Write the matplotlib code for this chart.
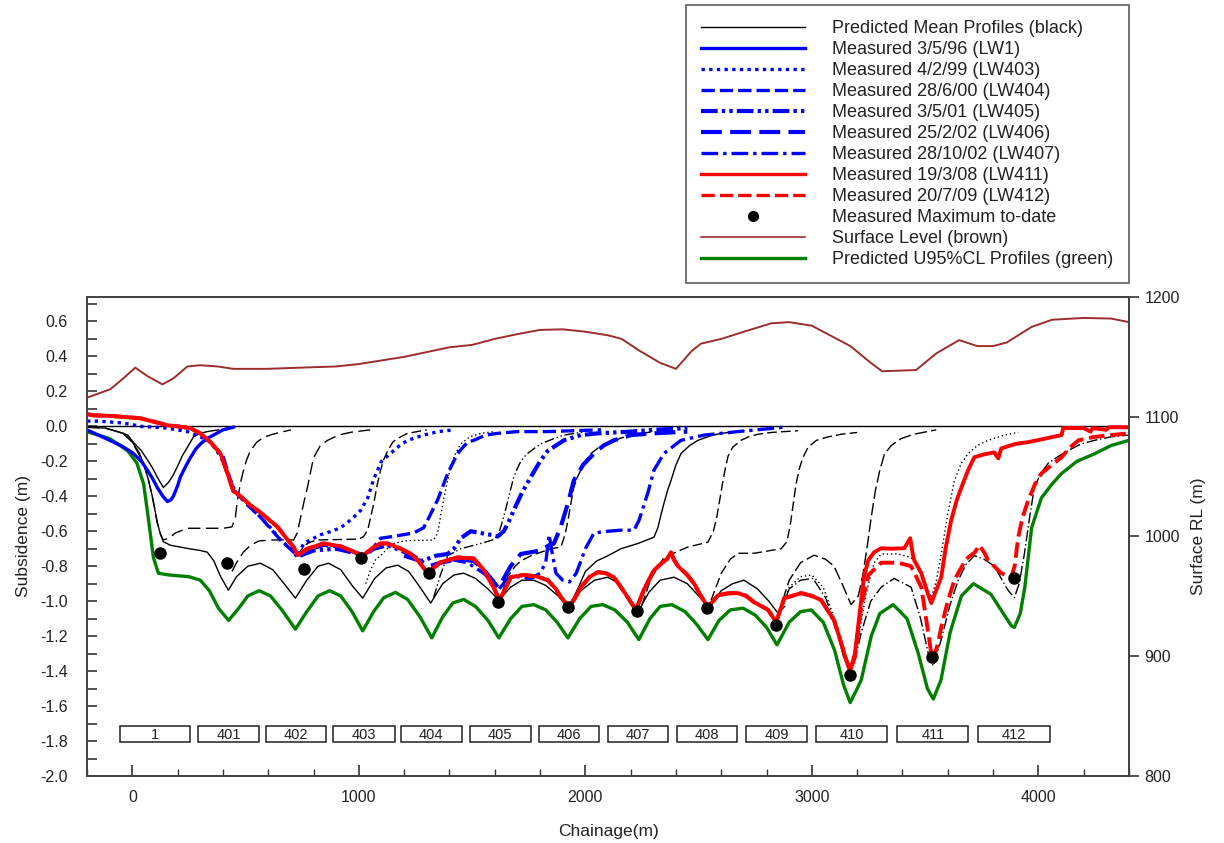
import matplotlib
matplotlib.use("Agg")
import matplotlib.pyplot as plt
from matplotlib.lines import Line2D
from matplotlib.patches import Rectangle

plt.rcParams['font.family'] = ['Liberation Sans', 'DejaVu Sans']

# ---------------- data ----------------
# Surface level (chainage m, RL m)
surf_x = [-199, -97, -40, 13, 66, 133, 181, 243, 301, 376, 446, 597, 743, 900, 1000, 1100, 1200, 1300, 1400,
          1500, 1600, 1700, 1800, 1900, 2000, 2100, 2160, 2240, 2330, 2400, 2470, 2510, 2600, 2700, 2820,
          2900, 3000, 3080, 3170, 3260, 3310, 3460, 3550, 3650, 3730, 3800, 3860, 3970, 4060, 4200, 4320, 4400]
surf_rl = [1116, 1123, 1132, 1141, 1134, 1127, 1132, 1142, 1143, 1142, 1140, 1140, 1141, 1142, 1144, 1147, 1150,
           1154, 1158, 1160, 1165, 1169, 1172.5, 1173, 1171, 1168, 1165, 1155, 1145, 1140, 1155, 1161, 1165,
           1171, 1178, 1179, 1176, 1168, 1159, 1145, 1138, 1139, 1153, 1164, 1159, 1159, 1162, 1175, 1181,
           1182.5, 1182, 1179]

# Predicted U95%CL profile (green)
u95_x = [-200, -100, -20, 20, 50, 70, 93, 115, 160, 250, 300, 340, 380, 425, 470, 510, 560, 610, 660, 720, 770,
         820, 871, 920, 970, 1017, 1065, 1110, 1162, 1215, 1270, 1322, 1370, 1415, 1463, 1515, 1570, 1618, 1670,
         1720, 1772, 1825, 1875, 1923, 1975, 2025, 2077, 2130, 2185, 2236, 2285, 2330, 2382, 2440, 2490, 2541,
         2590, 2640, 2696, 2750, 2800, 2846, 2900, 2950, 2997, 3050, 3100, 3140, 3169, 3200, 3218, 3262, 3300,
         3359, 3420, 3470, 3510, 3536, 3570, 3610, 3660, 3713, 3790, 3840, 3880, 3894, 3920, 3940, 3955, 3970,
         4013, 4060, 4102, 4170, 4248, 4320, 4400]
u95_y = [-0.03, -0.07, -0.14, -0.21, -0.33, -0.52, -0.75, -0.84, -0.85, -0.86, -0.88, -0.94, -1.04, -1.11, -1.04,
         -0.97, -0.94, -0.97, -1.05, -1.16, -1.06, -0.97, -0.94, -0.97, -1.06, -1.17, -1.06, -0.98, -0.95, -0.99,
         -1.09, -1.21, -1.09, -1.01, -0.99, -1.03, -1.11, -1.21, -1.10, -1.03, -1.02, -1.05, -1.12, -1.21, -1.10,
         -1.03, -1.02, -1.05, -1.12, -1.22, -1.10, -1.03, -1.02, -1.06, -1.13, -1.22, -1.11, -1.05, -1.04, -1.08,
         -1.15, -1.25, -1.12, -1.06, -1.05, -1.12, -1.28, -1.48, -1.58, -1.50, -1.45, -1.20, -1.07, -1.02, -1.10,
         -1.30, -1.50, -1.56, -1.45, -1.18, -0.97, -0.90, -0.96, -1.06, -1.14, -1.15, -1.07, -0.92, -0.75, -0.58,
         -0.41, -0.33, -0.27, -0.20, -0.157, -0.11, -0.08]

# Predicted mean profiles (black), one per stage
p1_x = [-66, -20, 4, 40, 66, 90, 110, 137, 160, 180, 199, 220, 243, 270, 300, 331, 380]
p1_y = [-0.03, -0.05, -0.09, -0.14, -0.19, -0.24, -0.29, -0.35, -0.32, -0.28, -0.23, -0.17, -0.12, -0.06, -0.04,
        -0.03, -0.02]

pm_x = [-200, -120, -66, -40, 0, 30, 49, 70, 88, 100, 110, 125, 137, 168, 250, 300, 331, 360, 390, 424, 460, 510,
        566, 620, 670, 720, 770, 820, 866, 920, 970, 1017, 1070, 1120, 1171, 1220, 1270, 1317, 1370, 1420, 1463,
        1515, 1570, 1618, 1670, 1720, 1772, 1825, 1880, 1927, 1980, 2040, 2099, 2150, 2190, 2232, 2280, 2330,
        2391, 2450, 2500, 2546, 2600, 2650, 2700, 2760, 2810, 2851, 2880]
pm_y = [-0.005, -0.01, -0.03, -0.04, -0.09, -0.15, -0.21, -0.30, -0.40, -0.48, -0.55, -0.62, -0.66, -0.68, -0.70,
        -0.71, -0.72, -0.77, -0.86, -0.937, -0.86, -0.80, -0.783, -0.82, -0.90, -0.983, -0.88, -0.80, -0.783,
        -0.82, -0.91, -0.983, -0.87, -0.81, -0.794, -0.83, -0.92, -1.011, -0.90, -0.85, -0.84, -0.87, -0.93,
        -0.994, -0.92, -0.88, -0.88, -0.91, -0.97, -1.04, -0.94, -0.88, -0.863, -0.90, -0.98, -1.063, -0.95,
        -0.88, -0.863, -0.90, -0.97, -1.034, -0.94, -0.90, -0.88, -0.93, -1.00, -1.07, -1.03]

p401_x = [-200, -120, -66, -40, 0, 49, 70, 88, 100, 110, 125, 137, 160, 190, 243, 402, 440, 455, 464, 478, 491,
          505, 522, 550, 579, 620, 654, 700]
p401_y = [-0.005, -0.01, -0.03, -0.04, -0.09, -0.21, -0.30, -0.40, -0.48, -0.55, -0.62, -0.65, -0.64, -0.61,
          -0.583, -0.583, -0.575, -0.52, -0.42, -0.32, -0.25, -0.19, -0.137, -0.09, -0.063, -0.045, -0.034, -0.02]

p402_x = [440, 460, 490, 522, 560, 620, 712, 728, 743, 758, 773, 787, 800, 830, 862, 910, 964, 1050]
p402_y = [-0.83, -0.78, -0.72, -0.68, -0.655, -0.65, -0.65, -0.61, -0.52, -0.43, -0.35, -0.26, -0.18, -0.11,
          -0.08, -0.05, -0.034, -0.02]

p403_x = [729, 760, 790, 818, 1000, 1021, 1039, 1052, 1066, 1080, 1096, 1110, 1127, 1150, 1170, 1215, 1300]
p403_y = [-0.74, -0.68, -0.66, -0.65, -0.645, -0.63, -0.594, -0.52, -0.44, -0.34, -0.25, -0.19, -0.14, -0.09,
          -0.07, -0.04, -0.02]

p404_x = [1030, 1052, 1075, 1096, 1125, 1155, 1200, 1330, 1348, 1360, 1374, 1390, 1405, 1425, 1450, 1490, 1538,
          1600]
p404_y = [-0.90, -0.82, -0.76, -0.74, -0.70, -0.67, -0.655, -0.65, -0.61, -0.52, -0.42, -0.32, -0.23, -0.16,
          -0.10, -0.06, -0.04, -0.03]

p405_x = [1330, 1360, 1392, 1450, 1538, 1590, 1613, 1630, 1645, 1657, 1670, 1684, 1700, 1715, 1740, 1770, 1803,
          1861, 1905, 2000]
p405_y = [-0.98, -0.85, -0.74, -0.70, -0.67, -0.65, -0.63, -0.56, -0.49, -0.43, -0.36, -0.29, -0.24, -0.20,
          -0.16, -0.13, -0.10, -0.07, -0.05, -0.03]

p406_x = [1630, 1657, 1690, 1715, 1760, 1803, 1850, 1892, 1910, 1923, 1936, 1949, 1965, 1980, 2000, 2025, 2060,
          2099, 2150, 2201, 2300]
p406_y = [-0.96, -0.86, -0.80, -0.77, -0.74, -0.72, -0.70, -0.69, -0.62, -0.54, -0.44, -0.35, -0.29, -0.25,
          -0.20, -0.155, -0.12, -0.10, -0.07, -0.05, -0.03]

p407_x = [1940, 1970, 2000, 2050, 2100, 2157, 2232, 2303, 2320, 2335, 2347, 2362, 2378, 2400, 2422, 2460, 2497,
          2550, 2599, 2700]
p407_y = [-1.00, -0.92, -0.83, -0.77, -0.74, -0.70, -0.67, -0.634, -0.58, -0.50, -0.44, -0.37, -0.31, -0.22,
          -0.156, -0.11, -0.08, -0.055, -0.04, -0.025]

p408_x = [2250, 2290, 2347, 2400, 2453, 2541, 2565, 2580, 2592, 2605, 2618, 2630, 2650, 2687, 2720, 2762, 2820,
          2939]
p408_y = [-1.02, -0.87, -0.75, -0.72, -0.69, -0.663, -0.60, -0.52, -0.43, -0.33, -0.24, -0.17, -0.12, -0.08,
          -0.06, -0.045, -0.035, -0.025]

p409_x = [2555, 2600, 2640, 2674, 2745, 2864, 2890, 2905, 2918, 2930, 2945, 2960, 2983, 3020, 3072, 3130, 3200]
p409_y = [-0.994, -0.84, -0.76, -0.726, -0.726, -0.70, -0.66, -0.56, -0.44, -0.33, -0.24, -0.18, -0.12, -0.08,
          -0.06, -0.045, -0.035]

p410_x = [2870, 2900, 2950, 3010, 3060, 3098, 3140, 3173, 3205, 3225, 3245, 3262, 3280, 3300, 3320, 3350, 3394,
          3450, 3549]
p410_y = [-1.00, -0.88, -0.78, -0.737, -0.76, -0.80, -0.92, -1.02, -0.97, -0.85, -0.68, -0.52, -0.37, -0.25,
          -0.16, -0.11, -0.07, -0.045, -0.02]

p411_x = [2860, 2900, 2950, 3000, 3050, 3100, 3140, 3169, 3200, 3240, 3275, 3306, 3380, 3438, 3480, 3527, 3550,
          3571, 3600, 3629, 3660, 3690, 3730, 3778, 3850, 3911]
p411_y = [-1.06, -0.92, -0.86, -0.85, -0.92, -1.10, -1.30, -1.38, -1.25, -0.95, -0.78, -0.73, -0.73, -0.75,
          -0.84, -0.98, -0.88, -0.73, -0.50, -0.31, -0.21, -0.156, -0.11, -0.08, -0.05, -0.034]

p412_x = [2860, 2900, 2950, 3005, 3060, 3100, 3140, 3169, 3200, 3218, 3260, 3306, 3363, 3438, 3480, 3514, 3536,
          3571, 3610, 3646, 3680, 3717, 3760, 3806, 3840, 3867, 3894, 3915, 3938, 3960, 3982, 4010, 4044, 4090,
          4133, 4190, 4248, 4320, 4398]
p412_y = [-1.06, -0.93, -0.88, -0.87, -0.98, -1.12, -1.32, -1.40, -1.28, -1.18, -1.00, -0.92, -0.87, -0.92,
          -1.10, -1.30, -1.37, -1.22, -1.02, -0.88, -0.79, -0.74, -0.76, -0.80, -0.88, -0.94, -0.98, -0.90, -0.73,
          -0.53, -0.35, -0.27, -0.21, -0.17, -0.137, -0.10, -0.08, -0.06, -0.05]

# Measured profiles
lw1_x = [-200, -150, -100, -50, 0, 40, 66, 90, 110, 135, 155, 170, 181, 200, 212, 235, 256, 280, 301, 330, 358,
         400, 446]
lw1_y = [-0.02, -0.05, -0.08, -0.11, -0.15, -0.20, -0.25, -0.30, -0.35, -0.40, -0.43, -0.42, -0.40, -0.34,
         -0.29, -0.23, -0.18, -0.13, -0.10, -0.07, -0.05, -0.02, -0.005]

lw403_x = [-200, -150, -100, -50, 0, 35, 100, 150, 200, 243, 300, 345, 389, 420, 446, 477, 520, 566, 610, 654,
           700, 729, 756, 800, 831, 880, 919, 950, 977, 1008, 1039, 1066, 1083, 1100, 1140, 1180, 1215, 1286,
           1350, 1420]
lw403_y = [0.03, 0.03, 0.025, 0.02, 0.01, 0.0, -0.005, -0.01, -0.02, -0.03, -0.06, -0.09, -0.17, -0.26, -0.35,
           -0.40, -0.46, -0.52, -0.58, -0.65, -0.70, -0.75, -0.67, -0.64, -0.62, -0.60, -0.58, -0.55, -0.52,
           -0.48, -0.41, -0.30, -0.25, -0.20, -0.155, -0.11, -0.08, -0.05, -0.03, -0.02]

lw404_x = [400, 446, 500, 566, 654, 729, 773, 844, 919, 1000, 1021, 1066, 1096, 1150, 1242, 1286, 1310, 1348,
           1392, 1436, 1480, 1507, 1560, 1613, 1700, 1834, 1950, 2069]
lw404_y = [-0.17, -0.36, -0.44, -0.52, -0.65, -0.74, -0.71, -0.68, -0.69, -0.73, -0.74, -0.69, -0.64, -0.63,
           -0.61, -0.58, -0.52, -0.42, -0.27, -0.155, -0.09, -0.08, -0.05, -0.04, -0.03, -0.03, -0.025, -0.02]

lw405_x = [740, 800, 900, 1000, 1021, 1066, 1127, 1185, 1240, 1273, 1300, 1340, 1392, 1420, 1450, 1494, 1538,
           1580, 1613, 1640, 1660, 1684, 1720, 1759, 1800, 1834, 1905, 1980, 2055, 2200, 2300, 2450]
lw405_y = [-0.74, -0.71, -0.70, -0.73, -0.74, -0.70, -0.68, -0.71, -0.74, -0.77, -0.76, -0.74, -0.73, -0.70,
           -0.64, -0.60, -0.61, -0.62, -0.63, -0.60, -0.55, -0.48, -0.38, -0.29, -0.20, -0.14, -0.08, -0.05,
           -0.04, -0.03, -0.02, -0.01]

lw406_x = [1200, 1273, 1310, 1361, 1436, 1507, 1551, 1590, 1613, 1627, 1670, 1715, 1760, 1803, 1840, 1861, 1890,
           1923, 1949, 1990, 2038, 2080, 2126, 2201, 2300, 2450]
lw406_y = [-0.74, -0.77, -0.80, -0.78, -0.76, -0.77, -0.82, -0.88, -0.92, -0.90, -0.80, -0.73, -0.72, -0.71,
           -0.68, -0.67, -0.58, -0.44, -0.31, -0.22, -0.156, -0.11, -0.08, -0.05, -0.04, -0.03]

lw407_x = [1400, 1480, 1551, 1600, 1620, 1650, 1700, 1760, 1800, 1825, 1840, 1850, 1870, 1900, 1930, 1960, 2000,
           2038, 2100, 2157, 2215, 2237, 2276, 2303, 2347, 2422, 2524, 2674, 2878]
lw407_y = [-0.76, -0.78, -0.84, -0.90, -0.93, -0.88, -0.86, -0.87, -0.84, -0.78, -0.62, -0.70, -0.84, -0.88,
           -0.89, -0.84, -0.70, -0.61, -0.60, -0.594, -0.594, -0.537, -0.38, -0.25, -0.155, -0.08, -0.05, -0.03,
           -0.005]

common_red_x = [-200, -172, -100, 0, 35, 100, 155, 200, 256, 300, 345, 389, 420, 446, 477, 520, 553, 600, 641,
                680, 712, 729, 750, 773, 844, 919, 995, 1021, 1066, 1096, 1127, 1185, 1230, 1260, 1304, 1330,
                1361, 1436, 1507, 1551, 1590, 1613, 1627, 1650, 1670, 1728, 1790, 1834, 1870, 1892, 1927, 1955,
                1980, 2020, 2055, 2090, 2126, 2157, 2188, 2223, 2260, 2303, 2342, 2360, 2378, 2390, 2409, 2450,
                2480, 2510, 2541, 2586, 2630, 2674, 2710, 2745, 2807, 2842, 2878, 2953, 3000, 3041, 3098, 3120,
                3150, 3169]
common_red_y = [0.07, 0.063, 0.06, 0.05, 0.046, 0.025, 0.006, 0.0, -0.01, -0.04, -0.09, -0.155, -0.27, -0.37,
                -0.40, -0.45, -0.48, -0.53, -0.575, -0.64, -0.69, -0.737, -0.72, -0.70, -0.67, -0.686, -0.726,
                -0.737, -0.69, -0.67, -0.67, -0.70, -0.73, -0.766, -0.84, -0.81, -0.777, -0.75, -0.756, -0.82,
                -0.91, -0.97, -0.98, -0.92, -0.863, -0.85, -0.86, -0.88, -0.93, -0.977, -1.034, -0.98, -0.92,
                -0.86, -0.834, -0.84, -0.863, -0.92, -0.98, -1.05, -0.93, -0.823, -0.777, -0.76, -0.72, -0.76,
                -0.80, -0.85, -0.90, -0.97, -1.034, -0.966, -0.955, -0.954, -0.97, -1.006, -1.05, -1.12, -0.983,
                -0.954, -0.97, -0.994, -1.11, -1.20, -1.33, -1.40]

lw411_tail_x = [3190, 3210, 3230, 3249, 3275, 3306, 3350, 3408, 3425, 3434, 3445, 3452, 3483, 3510, 3527, 3545,
                3571, 3590, 3615, 3640, 3660, 3690, 3717, 3760, 3806, 3815, 3823, 3836, 3900, 3956, 4030, 4102,
                4110, 4200, 4230, 4240, 4300, 4310, 4398]
lw411_tail_y = [-1.30, -1.08, -0.86, -0.766, -0.72, -0.697, -0.70, -0.697, -0.66, -0.64, -0.73, -0.766, -0.84,
                -0.95, -1.011, -0.95, -0.863, -0.70, -0.537, -0.42, -0.35, -0.25, -0.177, -0.16, -0.149, -0.17,
                -0.183, -0.126, -0.10, -0.09, -0.07, -0.05, -0.01, -0.01, -0.03, -0.01, -0.02, -0.005, -0.005]

lw412_tail_x = [3190, 3218, 3250, 3306, 3380, 3438, 3483, 3510, 3527, 3536, 3555, 3571, 3600, 3629, 3680, 3720,
                3739, 3760, 3778, 3836, 3880, 3895, 3911, 3930, 3956, 3985, 4013, 4060, 4102, 4140, 4177, 4248,
                4320, 4398]
lw412_tail_y = [-1.32, -1.03, -0.85, -0.78, -0.78, -0.80, -0.92, -1.15, -1.30, -1.33, -1.25, -1.15, -1.00, -0.88,
                -0.76, -0.72, -0.68, -0.72, -0.766, -0.84, -0.863, -0.80, -0.634, -0.52, -0.42, -0.33, -0.27,
                -0.22, -0.177, -0.12, -0.08, -0.06, -0.05, -0.04]

# Measured maximum to date
max_x = [124, 420, 760, 1008, 1308, 1613, 1923, 2228, 2537, 2842, 3169, 3531, 3894]
max_y = [-0.726, -0.783, -0.817, -0.754, -0.84, -1.006, -1.034, -1.057, -1.04, -1.137, -1.423, -1.32, -0.869]

# Longwall panels
panel_names = ['1', '401', '402', '403', '404', '405', '406', '407', '408', '409', '410', '411', '412']
panel_start = [-53, 292, 588, 888, 1185, 1489, 1794, 2099, 2404, 2709, 3019, 3377, 3735]
panel_end = [256, 557, 857, 1158, 1454, 1759, 2060, 2365, 2670, 2979, 3333, 3691, 4049]

# ---------------- plot ----------------
fig = plt.figure(figsize=(12.24, 8.43), dpi=100)
ax = fig.add_axes([0.0711, 0.0795, 0.8513, 0.5682])
ax2 = ax.twinx()

ax.axhline(0, color='black', lw=1.0, zorder=2)

ax.plot(u95_x, u95_y, color='#008000', lw=2.4, zorder=3)

blk = dict(color='black', lw=1.0, zorder=4)
ax.plot(pm_x, pm_y, ls='-', **blk)
ax.plot(p1_x, p1_y, ls='-', **blk)
ax.plot(p401_x, p401_y, dashes=(9, 4), **blk)
ax.plot(p402_x, p402_y, dashes=(9, 4), **blk)
ax.plot(p403_x, p403_y, dashes=(7, 3), **blk)
ax.plot(p404_x, p404_y, dashes=(1, 2), **blk)
ax.plot(p405_x, p405_y, dashes=(7, 2, 1, 2, 1, 2), **blk)
ax.plot(p406_x, p406_y, dashes=(7, 3), **blk)
ax.plot(p407_x, p407_y, ls='-', **blk)
ax.plot(p408_x, p408_y, dashes=(7, 3), **blk)
ax.plot(p409_x, p409_y, dashes=(7, 3), **blk)
ax.plot(p410_x, p410_y, dashes=(9, 3), **blk)
ax.plot(p411_x, p411_y, dashes=(1, 2), **blk)
ax.plot(p412_x, p412_y, dashes=(8, 2, 1, 2), **blk)

blue = '#0000ff'
red = '#ff0000'
ax.plot(lw1_x, lw1_y, color=blue, lw=2.4, zorder=5)
ax.plot(lw403_x, lw403_y, color=blue, lw=2.4, dashes=(1, 1.3), zorder=5)
ax.plot(lw404_x, lw404_y, color=blue, lw=2.4, dashes=(4, 1.5), zorder=5)
ax.plot(lw405_x, lw405_y, color=blue, lw=3.0, dashes=(4, 1, 0.8, 1, 0.8, 1), zorder=5)
ax.plot(lw406_x, lw406_y, color=blue, lw=3.0, dashes=(5, 2), zorder=5)
ax.plot(lw407_x, lw407_y, color=blue, lw=2.4, dashes=(5, 1.5, 1, 1.5), zorder=5)

ax.plot(common_red_x + lw411_tail_x, common_red_y + lw411_tail_y, color=red, lw=2.8, zorder=6)
ax.plot(common_red_x + lw412_tail_x, common_red_y + lw412_tail_y, color=red, lw=2.8, dashes=(4, 1.5), zorder=6)

ax.plot(max_x, max_y, 'o', color='black', ms=8, zorder=7, ls='none')

for name, x0, x1 in zip(panel_names, panel_start, panel_end):
    ax.add_patch(Rectangle((x0, -1.806), x1 - x0, 0.092, facecolor='white', edgecolor='#222222',
                           lw=1.1, zorder=3))
    ax.text((x0 + x1) / 2, -1.764, name, ha='center', va='center', fontsize=10.5, color='#222222', zorder=4)

ax2.plot(surf_x, surf_rl, color='#9b2d2d', lw=1.4)

ax.set_xlim(-200, 4400)
ax.set_ylim(-2.0, 0.74)
ax2.set_ylim(800, 1200)

ax.set_xticks([0, 1000, 2000, 3000, 4000])
ax.set_xticks(range(-200, 4401, 200), minor=True)
ax.set_yticks([-2.0, -1.8, -1.6, -1.4, -1.2, -1.0, -0.8, -0.6, -0.4, -0.2, 0.0, 0.2, 0.4, 0.6])
ax.set_yticks([v / 10 for v in range(-20, 8)], minor=True)
ax.set_yticklabels(['-2.0', '-1.8', '-1.6', '-1.4', '-1.2', '-1.0', '-0.8', '-0.6', '-0.4', '-0.2', '0.0',
                    '0.2', '0.4', '0.6'])
ax2.set_yticks([800, 900, 1000, 1100, 1200])

ax.tick_params(axis='x', which='major', direction='in', length=8, width=1.2, labelsize=11.5, pad=10,
               colors='#333333', labelcolor='#222222', top=False)
ax.tick_params(axis='x', which='minor', direction='in', length=5, width=1.0, colors='#333333', top=False)
ax.tick_params(axis='y', which='both', direction='in', length=7, width=1.2, labelsize=11.5, pad=14,
               colors='#333333', labelcolor='#222222', right=False)
ax2.tick_params(axis='y', which='major', direction='out', length=7, width=1.2, labelsize=11.5, pad=4,
                colors='#333333', labelcolor='#222222')

for a in (ax, ax2):
    for s in a.spines.values():
        s.set_color('#444444')
        s.set_linewidth(1.4)

ax.set_xlabel('Chainage(m)', fontsize=12.5, color='#222222', labelpad=14)
ax.set_ylabel('Subsidence (m)', fontsize=12.5, color='#222222', labelpad=6)
ax2.set_ylabel('Surface RL (m)', fontsize=12.5, color='#222222', labelpad=8)

# Legend
handles = [
    Line2D([], [], color='black', lw=1.0),
    Line2D([], [], color=blue, lw=2.4),
    Line2D([], [], color=blue, lw=2.4, dashes=(1, 1.3)),
    Line2D([], [], color=blue, lw=2.4, dashes=(4, 1.5)),
    Line2D([], [], color=blue, lw=3.0, dashes=(4, 1, 0.8, 1, 0.8, 1)),
    Line2D([], [], color=blue, lw=3.0, dashes=(5, 2)),
    Line2D([], [], color=blue, lw=2.4, dashes=(5, 1.5, 1, 1.5)),
    Line2D([], [], color=red, lw=2.4),
    Line2D([], [], color=red, lw=2.4, dashes=(4, 1.5)),
    Line2D([], [], color='black', marker='o', ms=7, ls='none'),
    Line2D([], [], color='#9b2d2d', lw=1.2),
    Line2D([], [], color='#008000', lw=2.4),
]
labels = ['Predicted Mean Profiles (black)', 'Measured 3/5/96 (LW1)', 'Measured 4/2/99 (LW403)',
          'Measured 28/6/00 (LW404)', 'Measured 3/5/01 (LW405)', 'Measured 25/2/02 (LW406)',
          'Measured 28/10/02 (LW407)', 'Measured 19/3/08 (LW411)', 'Measured 20/7/09 (LW412)',
          'Measured Maximum to-date', 'Surface Level (brown)', 'Predicted U95%CL Profiles (green)']
leg = fig.legend(handles, labels, loc='upper left', bbox_to_anchor=(0.5605, 0.994), fontsize=13,
                 frameon=True, fancybox=False, shadow=False, handlelength=5.75, handletextpad=1.5,
                 labelspacing=0.22, borderpad=0.85, borderaxespad=0.0)
leg.get_frame().set_edgecolor('#333333')
leg.get_frame().set_linewidth(1.2)
for t in leg.get_texts():
    t.set_color('#222222')

fig.savefig('out.png', dpi=100)
